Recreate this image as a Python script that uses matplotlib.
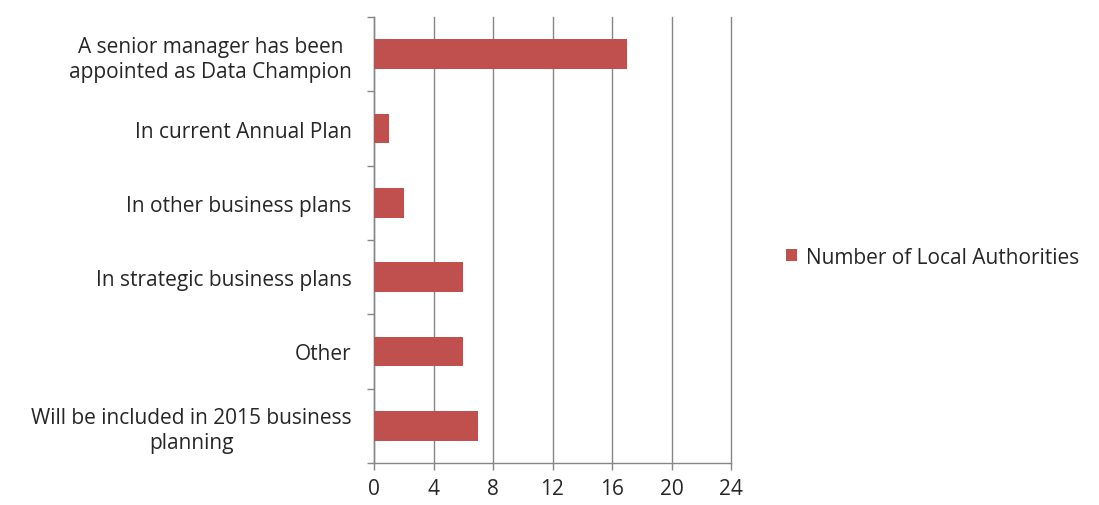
import matplotlib.pyplot as plt
from matplotlib.patches import Patch

categories = [
    "A senior manager has been\nappointed as Data Champion",
    "In current Annual Plan",
    "In other business plans",
    "In strategic business plans",
    "Other",
    "Will be included in 2015 business\nplanning",
]
counts = [17, 1, 2, 6, 6, 7]
x_ticks = [0, 4, 8, 12, 16, 20, 24]
series_name = "Number of Local Authorities"

bar_color = "#C0504D"
line_color = "#868686"
text_color = "#262626"
fsize = 15

plt.rcParams["font.family"] = ["Open Sans", "DejaVu Sans"]

fig = plt.figure(figsize=(10.99, 5.06), dpi=100)
ax = fig.add_axes([374 / 1099, 1 - 464 / 506, (731 - 374) / 1099, (464 - 18) / 506])

pos = list(range(len(categories)))
ax.barh(pos, counts, height=0.4, color=bar_color, zorder=3)
ax.set_ylim(len(categories) - 0.5, -0.5)
ax.set_xlim(0, 24)

ax.set_xticks(x_ticks)
ax.set_xticklabels([str(t) for t in x_ticks])
ax.set_yticks(pos)
ax.set_yticklabels(categories, ha="right", multialignment="center", linespacing=1.25)
ax.set_yticks([p - 0.5 for p in pos] + [len(categories) - 0.5], minor=True)

ax.tick_params(axis="y", which="major", length=0, pad=16, labelsize=fsize, labelcolor=text_color)
ax.tick_params(axis="y", which="minor", length=5, width=1, color=line_color, direction="out")
ax.tick_params(axis="x", length=5, width=1, color=line_color, pad=6, labelsize=fsize, labelcolor=text_color)

ax.grid(axis="x", color=line_color, linewidth=1, zorder=0)
for gl in ax.get_xgridlines():
    gl.set_clip_on(False)
for side in ["top", "right"]:
    ax.spines[side].set_visible(False)
for side in ["left", "bottom"]:
    ax.spines[side].set_color(line_color)
    ax.spines[side].set_linewidth(1)

handle = Patch(facecolor=bar_color, edgecolor="none", label=series_name)
fig.legend(handles=[handle], loc="center left", bbox_to_anchor=(767 / 1099, 1 - 258 / 506),
           frameon=False, fontsize=fsize, handlelength=0.55, handleheight=0.55,
           handletextpad=0.4, labelcolor=text_color)

fig.savefig("out.png", dpi=100)
